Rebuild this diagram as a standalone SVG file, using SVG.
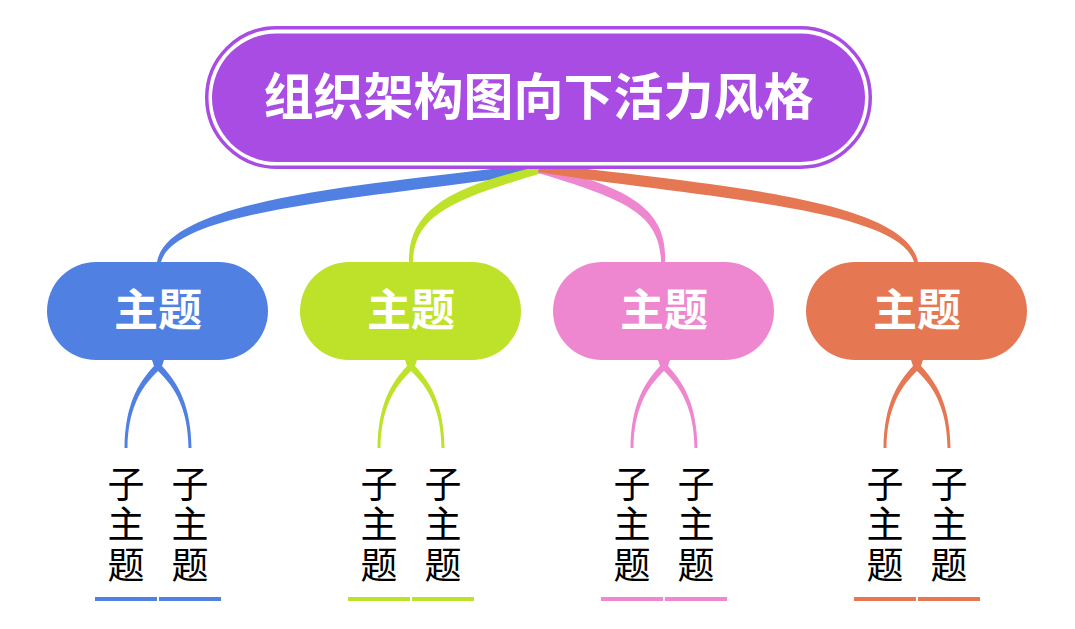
<svg xmlns="http://www.w3.org/2000/svg" width="1075" height="629" viewBox="0 0 1075 629">
<style>
.title{font-family:"Noto Sans CJK SC","Noto Sans",sans-serif;font-weight:700;font-size:50px;fill:#fff;text-anchor:middle}
.main{font-family:"Noto Sans CJK SC","Noto Sans",sans-serif;font-weight:700;font-size:44px;fill:#fff;text-anchor:middle}
.sub{font-family:"Noto Sans CJK SC","Noto Sans",sans-serif;font-weight:400;font-size:37px;fill:#000;text-anchor:middle}
.blue{fill:#5081E2}.green{fill:#BDE229}.pink{fill:#EE87CF}.orange{fill:#E57753}
.ublue{stroke:#5081E2}.ugreen{stroke:#BDE229}.upink{stroke:#EE87CF}.uorange{stroke:#E57753}
.ul{stroke-width:4;fill:none}
</style>
<rect width="1075" height="629" fill="#fff"/>
<g id="connectors">
  <path class="blue" d="M540,163 C380,184 168,197 157,262 L161,262 C176,207 382,198 542,172 Z"/>
  <path class="green" d="M540,166 C450,187 408,210 409,262 L413,262 C414,214 455,199 542,173 Z"/>
  <path class="pink" d="M540,166 C630,187 668,210 665,262 L661,262 C660,214 625,199 538,173 Z"/>
  <path class="orange" d="M540,163 C700,184 906,197 918,262 L914,262 C898,207 698,198 538,172 Z"/>
  <g id="sub-conn-blue" class="blue" transform="translate(158,0)">
    <path d="M-6,360 H6 L4,366 C20,383 33,405 33.5,448 H30.5 C30,410 18,388 0,371 C-18,388 -30,410 -30.5,448 H-33.5 C-33,405 -20,383 -4,366 Z"/>
  </g>
  <g id="sub-conn-green" class="green" transform="translate(411,0)">
    <path d="M-6,360 H6 L4,366 C20,383 33,405 33.5,448 H30.5 C30,410 18,388 0,371 C-18,388 -30,410 -30.5,448 H-33.5 C-33,405 -20,383 -4,366 Z"/>
  </g>
  <g id="sub-conn-pink" class="pink" transform="translate(664,0)">
    <path d="M-6,360 H6 L4,366 C20,383 33,405 33.5,448 H30.5 C30,410 18,388 0,371 C-18,388 -30,410 -30.5,448 H-33.5 C-33,405 -20,383 -4,366 Z"/>
  </g>
  <g id="sub-conn-orange" class="orange" transform="translate(917,0)">
    <path d="M-6,360 H6 L4,366 C20,383 33,405 33.5,448 H30.5 C30,410 18,388 0,371 C-18,388 -30,410 -30.5,448 H-33.5 C-33,405 -20,383 -4,366 Z"/>
  </g>
</g>
<g id="root">
  <rect x="206.75" y="27.75" width="663.5" height="139.5" rx="69.75" fill="#fff" stroke="#A94CE3" stroke-width="3.5"/>
  <rect x="212" y="33.5" width="653" height="128.5" rx="64.25" fill="#A94CE3"/>
  <text class="title" x="538.5" y="115">组织架构图向下活力风格</text>
</g>
<g id="topic1">
  <rect x="47" y="262" width="221" height="98" rx="49" class="blue"/>
  <text class="main" x="158" y="326">主题</text>
</g>
<g id="topic2">
  <rect x="300" y="262" width="221" height="98" rx="49" class="green"/>
  <text class="main" x="411" y="326">主题</text>
</g>
<g id="topic3">
  <rect x="553" y="262" width="221" height="98" rx="49" class="pink"/>
  <text class="main" x="664" y="326">主题</text>
</g>
<g id="topic4">
  <rect x="806" y="262" width="221" height="98" rx="49" class="orange"/>
  <text class="main" x="917" y="326">主题</text>
</g>
<g id="sub1a"><text class="sub"><tspan x="126" y="498">子</tspan><tspan x="126" y="538">主</tspan><tspan x="126" y="579">题</tspan></text><line class="ul ublue" x1="95" y1="599" x2="157" y2="599"/></g>
<g id="sub1b"><text class="sub"><tspan x="190" y="498">子</tspan><tspan x="190" y="538">主</tspan><tspan x="190" y="579">题</tspan></text><line class="ul ublue" x1="159" y1="599" x2="221" y2="599"/></g>
<g id="sub2a"><text class="sub"><tspan x="379" y="498">子</tspan><tspan x="379" y="538">主</tspan><tspan x="379" y="579">题</tspan></text><line class="ul ugreen" x1="348" y1="599" x2="410" y2="599"/></g>
<g id="sub2b"><text class="sub"><tspan x="443" y="498">子</tspan><tspan x="443" y="538">主</tspan><tspan x="443" y="579">题</tspan></text><line class="ul ugreen" x1="412" y1="599" x2="474" y2="599"/></g>
<g id="sub3a"><text class="sub"><tspan x="632" y="498">子</tspan><tspan x="632" y="538">主</tspan><tspan x="632" y="579">题</tspan></text><line class="ul upink" x1="601" y1="599" x2="663" y2="599"/></g>
<g id="sub3b"><text class="sub"><tspan x="696" y="498">子</tspan><tspan x="696" y="538">主</tspan><tspan x="696" y="579">题</tspan></text><line class="ul upink" x1="665" y1="599" x2="727" y2="599"/></g>
<g id="sub4a"><text class="sub"><tspan x="885" y="498">子</tspan><tspan x="885" y="538">主</tspan><tspan x="885" y="579">题</tspan></text><line class="ul uorange" x1="854" y1="599" x2="916" y2="599"/></g>
<g id="sub4b"><text class="sub"><tspan x="949" y="498">子</tspan><tspan x="949" y="538">主</tspan><tspan x="949" y="579">题</tspan></text><line class="ul uorange" x1="918" y1="599" x2="980" y2="599"/></g>
</svg>
